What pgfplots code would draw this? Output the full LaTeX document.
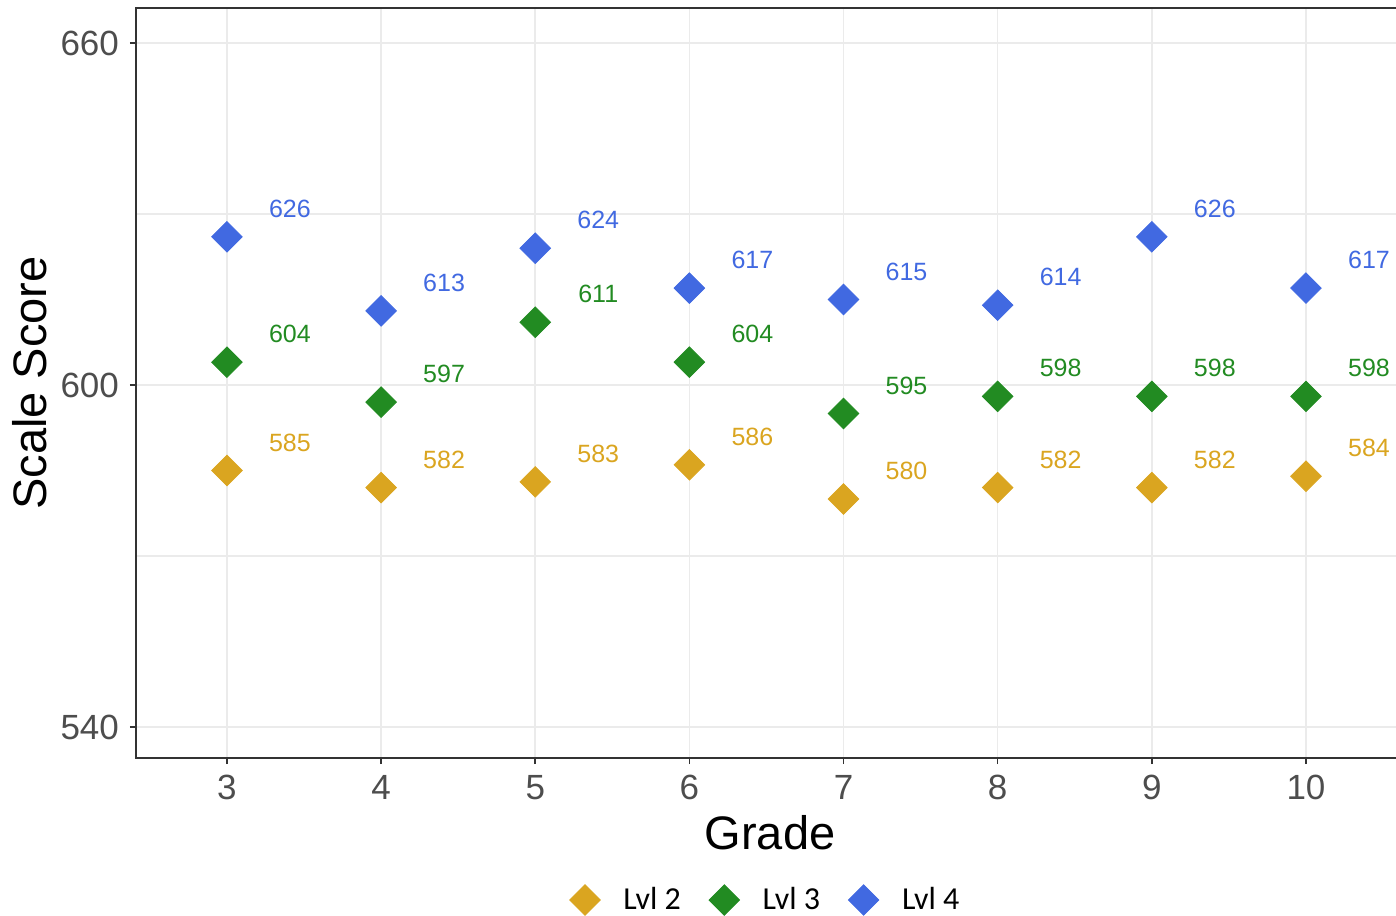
\documentclass[border=0pt]{standalone}
\usepackage{fontspec}
\setmainfont{Liberation Sans}
\newfontfamily\calibri{Carlito}
\usepackage{pgfplots}
\pgfplotsset{compat=1.18}
\definecolor{cTwo}{HTML}{DAA520}
\definecolor{cThree}{HTML}{228B22}
\definecolor{cFour}{HTML}{4169E1}
\definecolor{axgray}{HTML}{333333}
\definecolor{tickgray}{HTML}{4D4D4D}
\definecolor{gridgray}{HTML}{EBEBEB}
\begin{document}
\begin{tikzpicture}
\begin{axis}[
  scale only axis, width=634pt, height=375pt,
  xmin=2.41, xmax=10.6359, ymin=534.56, ymax=666.14,
  xtick={3,4,5,6,7,8,9,10}, ytick={540,600,660}, minor ytick={570,630},
  xtick pos=bottom, ytick pos=left,
  grid=both,
  major grid style={gridgray, line width=0.75pt},
  minor grid style={gridgray, line width=0.6pt},
  axis line style={axgray, line width=0.75pt},
  tick style={axgray, line width=0.75pt},
  tick align=outside, major tick length=3pt, minor tick length=0pt,
  /pgf/number format/assume math mode=true,
  ticklabel style={font=\fontsize{17.5}{20}\selectfont, text=tickgray},
  xticklabel style={yshift=-2pt},
  yticklabel style={xshift=-2pt},
  xlabel={Grade}, ylabel={Scale Score},
  label style={font=\fontsize{23.5}{27}\selectfont},
  xlabel style={yshift=-1pt},
  nodes near coords,
  every node near coord/.append style={anchor=center, xshift=31.5pt, yshift=14pt, font=\fontsize{12.5}{14}\selectfont},
  legend columns=3,
  legend style={at={(0.4969,0)}, anchor=center, yshift=-71pt, draw=none, font=\calibri\fontsize{16}{18}\selectfont,
    /tikz/every even column/.append style={column sep=11.5pt}},
  legend image code/.code={\path (-8pt,0pt) (17pt,0pt); \draw[#1] plot coordinates {(0pt,0pt)};},
]
\addplot[only marks, mark=square*, color=cTwo, mark size=5.4pt, mark options={rotate=45, draw=none, fill=cTwo},
  every node near coord/.append style={text=cTwo}] coordinates {
 (3,585) (4,582) (5,583) (6,586) (7,580) (8,582) (9,582) (10,584)};
\addlegendentry{Lvl 2}
\addplot[only marks, mark=square*, color=cThree, mark size=5.4pt, mark options={rotate=45, draw=none, fill=cThree},
  every node near coord/.append style={text=cThree}] coordinates {
 (3,604) (4,597) (5,611) (6,604) (7,595) (8,598) (9,598) (10,598)};
\addlegendentry{Lvl 3}
\addplot[only marks, mark=square*, color=cFour, mark size=5.4pt, mark options={rotate=45, draw=none, fill=cFour},
  every node near coord/.append style={text=cFour}] coordinates {
 (3,626) (4,613) (5,624) (6,617) (7,615) (8,614) (9,626) (10,617)};
\addlegendentry{Lvl 4}
\end{axis}
\pgfresetboundingbox
\useasboundingbox (-68pt,-78.5pt) rectangle (630pt,379pt);
\end{tikzpicture}
\end{document}
